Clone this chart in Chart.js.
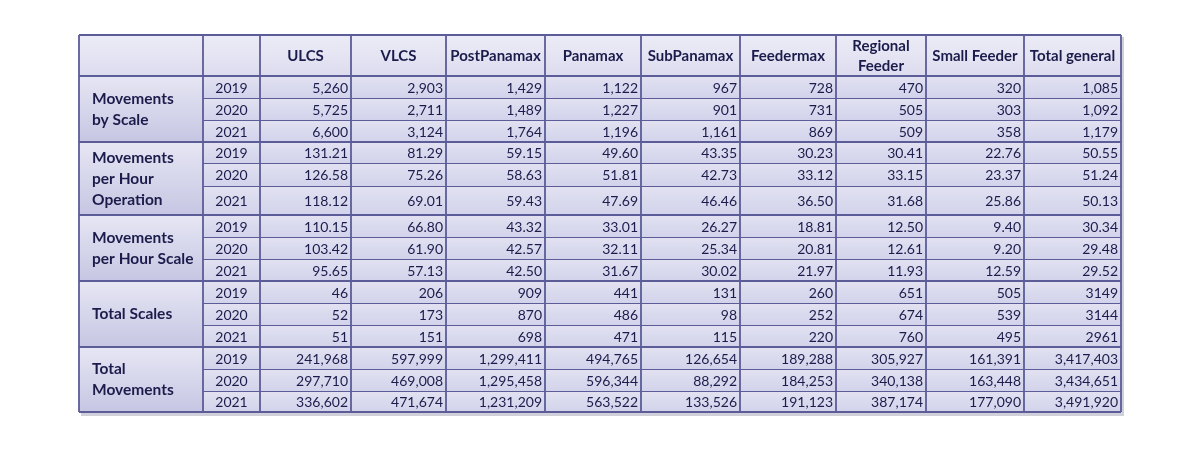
<!DOCTYPE html>
<html>
<head>
<meta charset="utf-8">
<script src="https://cdn.jsdelivr.net/npm/chart.js@4/dist/chart.umd.min.js"></script>
<style>
  html, body { margin: 0; padding: 0; background: #fff; }
  canvas { display: block; }
</style>
</head>
<body>
<canvas id="table" width="1200" height="452"></canvas>
<script>
// table content
const columns = ['ULCS', 'VLCS', 'PostPanamax', 'Panamax', 'SubPanamax', 'Feedermax', 'Regional\nFeeder', 'Small Feeder', 'Total general'];
const groups = ['Movements\nby Scale', 'Movements\nper Hour\nOperation', 'Movements\nper Hour Scale', 'Total Scales', 'Total\nMovements'];
const years = ['2019', '2020', '2021'];

const movementsByScale = [
    ['5,260', '2,903', '1,429', '1,122', '967', '728', '470', '320', '1,085'],
    ['5,725', '2,711', '1,489', '1,227', '901', '731', '505', '303', '1,092'],
    ['6,600', '3,124', '1,764', '1,196', '1,161', '869', '509', '358', '1,179'],
];
const movesPerHourOperation = [
    ['131.21', '81.29', '59.15', '49.60', '43.35', '30.23', '30.41', '22.76', '50.55'],
    ['126.58', '75.26', '58.63', '51.81', '42.73', '33.12', '33.15', '23.37', '51.24'],
    ['118.12', '69.01', '59.43', '47.69', '46.46', '36.50', '31.68', '25.86', '50.13'],
];
const movesPerHourScale = [
    ['110.15', '66.80', '43.32', '33.01', '26.27', '18.81', '12.50', '9.40', '30.34'],
    ['103.42', '61.90', '42.57', '32.11', '25.34', '20.81', '12.61', '9.20', '29.48'],
    ['95.65', '57.13', '42.50', '31.67', '30.02', '21.97', '11.93', '12.59', '29.52'],
];
const totalScales = [
    ['46', '206', '909', '441', '131', '260', '651', '505', '3149'],
    ['52', '173', '870', '486', '98', '252', '674', '539', '3144'],
    ['51', '151', '698', '471', '115', '220', '760', '495', '2961'],
];
const totalMovements = [
    ['241,968', '597,999', '1,299,411', '494,765', '126,654', '189,288', '305,927', '161,391', '3,417,403'],
    ['297,710', '469,008', '1,295,458', '596,344', '88,292', '184,253', '340,138', '163,448', '3,434,651'],
    ['336,602', '471,674', '1,231,209', '563,522', '133,526', '191,123', '387,174', '177,090', '3,491,920'],
];
const groupRows = [movementsByScale, movesPerHourOperation, movesPerHourScale, totalScales, totalMovements];

// layout (in scale units, which equal page pixels here)
const colEdges = [79, 203, 260, 351, 446, 545, 641, 740, 836, 926, 1024, 1121];
const headerTop = 35, headerBottom = 76;
const rowEdges = [
    [76, 98, 120, 142],
    [142, 163, 186, 215],
    [215, 237, 259, 281],
    [281, 303, 325, 347],
    [347, 369, 391, 412],
];

const BORDER = '#5c5c98';
const TEXT = '#1c1c4c';
const FONT = 'Lato, "Open Sans", sans-serif';

const tablePlugin = {
    id: 'tablePlugin',
    afterDraw(chart) {
        const ctx = chart.ctx;
        const xs = chart.scales.x, ys = chart.scales.y;
        const X = v => xs.getPixelForValue(v);
        const Y = v => ys.getPixelForValue(v);
        const left = X(colEdges[0]), right = X(colEdges[colEdges.length - 1]);
        const top = Y(headerTop), bottom = Y(rowEdges[4][3]);

        ctx.save();
        // shadow
        ctx.fillStyle = 'rgba(120,120,150,0.35)';
        ctx.fillRect(left + 2, top + 2, right - left + 1, bottom - top + 2);

        // header background
        let g = ctx.createLinearGradient(0, top, 0, Y(headerBottom));
        g.addColorStop(0, '#ececf7');
        g.addColorStop(1, '#dcdcef');
        ctx.fillStyle = g;
        ctx.fillRect(left, top, right - left, Y(headerBottom) - top);

        groupRows.forEach((rows, gi) => {
            const edges = rowEdges[gi];
            const gt = Y(edges[0]), gb = Y(edges[3]);
            // group label cell
            let lg = ctx.createLinearGradient(0, gt, 0, gb);
            lg.addColorStop(0, '#e6e6f4');
            lg.addColorStop(1, '#c6c6e3');
            ctx.fillStyle = lg;
            ctx.fillRect(left, gt, X(colEdges[1]) - left, gb - gt);
            // data cells
            for (let r = 0; r < 3; r++) {
                const rt = Y(edges[r]), rb = Y(edges[r + 1]);
                let cg = ctx.createLinearGradient(0, rt, 0, rb);
                cg.addColorStop(0, '#e2e2f2');
                cg.addColorStop(1, '#d2d2eb');
                ctx.fillStyle = cg;
                ctx.fillRect(X(colEdges[1]), rt, right - X(colEdges[1]), rb - rt);

                ctx.fillStyle = TEXT;
                ctx.font = '14px ' + FONT;
                ctx.textBaseline = 'middle';
                const cy = (rt + rb) / 2 + 1;
                ctx.textAlign = 'center';
                ctx.fillText(years[r], (X(colEdges[1]) + X(colEdges[2])) / 2, cy);
                ctx.textAlign = 'right';
                rows[r].forEach((v, c) => {
                    ctx.fillText(v, X(colEdges[c + 3]) - 3, cy);
                });
            }
            // group label text
            const lines = groups[gi].split('\n');
            ctx.fillStyle = TEXT;
            ctx.font = 'bold 15.5px ' + FONT;
            ctx.textAlign = 'left';
            ctx.textBaseline = 'middle';
            const lh = 21;
            const cy = (gt + gb) / 2 - (lines.length - 1) * lh / 2;
            lines.forEach((ln, i) => ctx.fillText(ln, left + 13, cy + i * lh));
        });

        // header text
        ctx.font = 'bold 15px ' + FONT;
        ctx.textAlign = 'center';
        columns.forEach((name, c) => {
            const cx = (X(colEdges[c + 2]) + X(colEdges[c + 3])) / 2;
            const lines = name.split('\n');
            const cy = (top + Y(headerBottom)) / 2 + 1 - (lines.length - 1) * 10;
            lines.forEach((ln, i) => ctx.fillText(ln, cx, cy + i * 20));
        });

        // grid lines
        ctx.strokeStyle = BORDER;
        ctx.lineWidth = 1.2;
        ctx.beginPath();
        rowEdges.forEach(edges => {
            edges.slice(1, 3).forEach(e => {
                ctx.moveTo(X(colEdges[1]), Y(e) + 0.5);
                ctx.lineTo(right, Y(e) + 0.5);
            });
        });
        ctx.stroke();
        ctx.lineWidth = 1.8;
        ctx.beginPath();
        ctx.moveTo(left, Y(headerBottom));
        ctx.lineTo(right, Y(headerBottom));
        rowEdges.forEach(edges => {
            ctx.moveTo(left, Y(edges[3]));
            ctx.lineTo(right, Y(edges[3]));
        });
        colEdges.forEach(e => {
            ctx.moveTo(X(e), top);
            ctx.lineTo(X(e), bottom);
        });
        ctx.moveTo(left, top);
        ctx.lineTo(right, top);
        ctx.stroke();
        ctx.restore();
    }
};

new Chart(document.getElementById('table'), {
    type: 'scatter',
    data: { datasets: [{ data: [] }] },
    options: {
        responsive: false,
        animation: false,
        layout: { padding: 0 },
        plugins: { legend: { display: false }, tooltip: { enabled: false } },
        scales: {
            x: { type: 'linear', min: 0, max: 1200, display: false },
            y: { type: 'linear', min: 0, max: 452, reverse: true, display: false }
        }
    },
    plugins: [tablePlugin]
});
</script>
</body>
</html>
